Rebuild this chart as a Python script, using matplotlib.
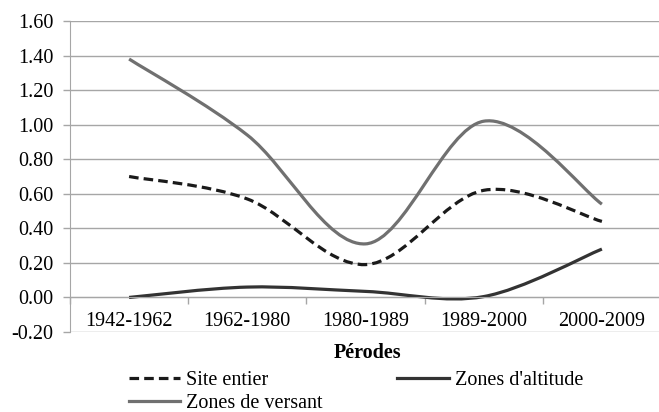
import matplotlib
matplotlib.use("Agg")
import matplotlib.pyplot as plt
import numpy as np
from matplotlib.path import Path
from matplotlib.patches import PathPatch
from matplotlib.lines import Line2D

plt.rcParams['font.family'] = ['Liberation Serif', 'DejaVu Serif']

categories = ["1942-1962", "1962-1980", "1980-1989", "1989-2000", "2000-2009"]
site_entier = [0.70, 0.57, 0.19, 0.62, 0.44]
zones_altitude = [0.00, 0.06, 0.035, 0.005, 0.28]
zones_versant = [1.38, 0.94, 0.31, 1.02, 0.54]
yticks = [-0.20, 0.00, 0.20, 0.40, 0.60, 0.80, 1.00, 1.20, 1.40, 1.60]


def smooth_path(xs, ys):
    pts = np.column_stack([xs, ys]).astype(float)
    n = len(pts)
    verts = [pts[0]]
    codes = [Path.MOVETO]
    for i in range(n - 1):
        p0 = pts[i - 1] if i > 0 else pts[i]
        p1 = pts[i]
        p2 = pts[i + 1]
        p3 = pts[i + 2] if i + 2 < n else pts[i + 1]
        c1 = p1 + (p2 - p0) / 6.0
        c2 = p2 - (p3 - p1) / 6.0
        verts += [c1, c2, p2]
        codes += [Path.CURVE4] * 3
    return Path(verts, codes)


FS = 14.5
fig = plt.figure(figsize=(6.59, 4.12), dpi=100)
ax = fig.add_axes([70/659, 1-332/412, (661-70)/659, (332-21)/412])

x = np.arange(len(categories))
ax.set_xlim(-0.5, len(categories) - 0.5)
ax.set_ylim(-0.20, 1.60)

grid_c = '#a6a6a6'
ax.set_yticks(yticks)
ax.set_yticklabels([f"{v:.2f}" for v in yticks], fontsize=FS)
ax.yaxis.grid(True, color=grid_c, linewidth=1.0)
ax.set_axisbelow(True)
ax.tick_params(axis='y', length=5, width=1, color=grid_c, pad=7)

for s in ['top', 'right']:
    ax.spines[s].set_visible(False)
ax.spines['left'].set_color(grid_c)
ax.spines['bottom'].set_color(grid_c)
ax.spines['bottom'].set_position(('data', 0))

ax.set_xticks(np.arange(len(categories) + 1) - 0.5)
ax.set_xticklabels([])
ax.tick_params(axis='x', length=5, width=1, color=grid_c, direction='out')
ax.xaxis.set_ticks_position('bottom')

for i, c in enumerate(categories):
    ax.text(i, -0.142, c, ha='center', va='center', fontsize=FS)

dash = (0, (3.0, 1.6))
styles = [
    (site_entier, dict(edgecolor='#1a1a1a', linewidth=2.3, linestyle=dash)),
    (zones_altitude, dict(edgecolor='#333333', linewidth=2.3, linestyle='-')),
    (zones_versant, dict(edgecolor='#707070', linewidth=2.3, linestyle='-')),
]
for vals, st in styles:
    patch = PathPatch(smooth_path(x, vals), facecolor='none', capstyle='butt', **st)
    ax.add_patch(patch)

fig.text(367/659, 1-353/412, "Pérodes", ha='center', va='center',
         fontsize=FS, fontweight='bold')

handles = [
    Line2D([], [], color='#1a1a1a', linewidth=2.3, linestyle=dash),
    Line2D([], [], color='#707070', linewidth=2.3),
    Line2D([], [], color='#333333', linewidth=2.3),
]
labels = ["Site entier", "Zones de versant", "Zones d'altitude"]
fig.legend(handles, labels, ncol=2, loc='upper left',
           bbox_to_anchor=(129/659, 1-371/412), frameon=False, fontsize=FS,
           handlelength=2.55, handletextpad=0.3, columnspacing=3.7,
           labelspacing=0.2, borderpad=0, borderaxespad=0)

fig.savefig("out.png", dpi=100)
